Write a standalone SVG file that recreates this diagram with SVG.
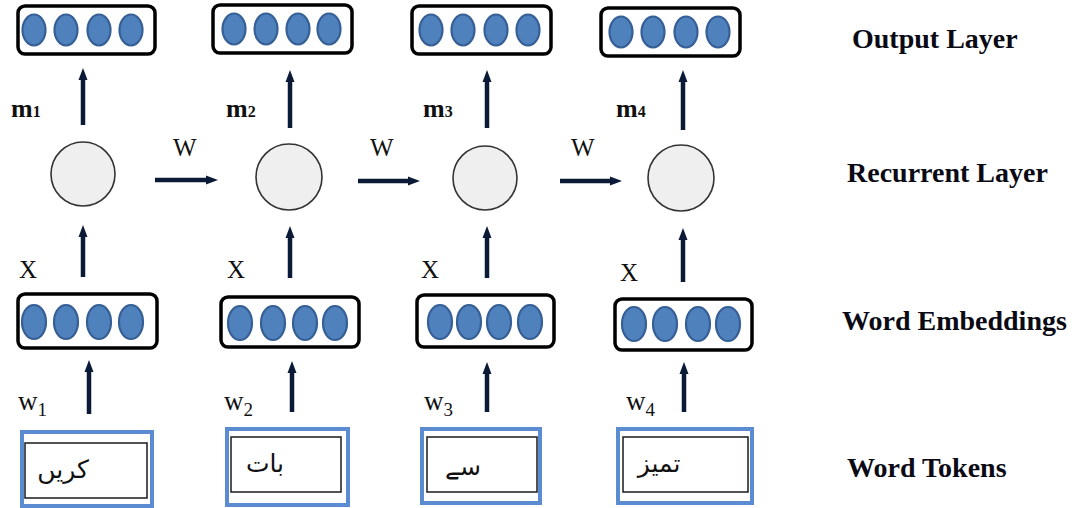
<svg xmlns="http://www.w3.org/2000/svg" width="1076" height="508" viewBox="0 0 1076 508">
  <style>
    .vec { fill: #ffffff; stroke: #000000; stroke-width: 3.5; }
    .dot { fill: #4f81bd; stroke: #365f96; stroke-width: 2.2; }
    .cell { fill: #efefef; stroke: #333333; stroke-width: 1.6; }
    .tok-outer { fill: #ffffff; stroke: #5b8bd0; stroke-width: 4; }
    .tok-inner { fill: #ffffff; stroke: #1a1a1a; stroke-width: 1.5; }
    .arrow { stroke: #0b1a36; stroke-width: 4.5; fill: none; marker-end: url(#head); }
    .lbl { font-family: "Liberation Serif", "Times New Roman", serif; fill: #111111; }
    .bold { font-weight: bold; }
    .layer { font-family: "Liberation Serif", "Times New Roman", serif; font-weight: bold; font-size: 28px; fill: #0a0a14; }
    .urdu { font-family: "DejaVu Sans", "Noto Sans", sans-serif; font-size: 25px; fill: #111111; }
  </style>
  <defs>
    <marker id="head" markerUnits="userSpaceOnUse" markerWidth="12" markerHeight="12" viewBox="0 0 12 12" refX="2" refY="6" orient="auto">
      <path d="M0,1.5 L12,6 L0,10.5 z" fill="#0b1a36"/>
    </marker>
  </defs>

  <rect width="1076" height="508" fill="#ffffff"/>

  <!-- output layer vectors -->
  <g id="out1">
    <rect class="vec" x="18" y="6" width="137" height="48" rx="7"/>
    <ellipse class="dot" cx="34" cy="30" rx="11.5" ry="15.5"/>
    <ellipse class="dot" cx="66" cy="30" rx="11.5" ry="15.5"/>
    <ellipse class="dot" cx="99" cy="30" rx="11.5" ry="15.5"/>
    <ellipse class="dot" cx="131" cy="30" rx="11.5" ry="15.5"/>
  </g>
  <g id="out2">
    <rect class="vec" x="213" y="5" width="139" height="48" rx="7"/>
    <ellipse class="dot" cx="234" cy="29" rx="11.5" ry="15.5"/>
    <ellipse class="dot" cx="266" cy="29" rx="11.5" ry="15.5"/>
    <ellipse class="dot" cx="298" cy="29" rx="11.5" ry="15.5"/>
    <ellipse class="dot" cx="329" cy="29" rx="11.5" ry="15.5"/>
  </g>
  <g id="out3">
    <rect class="vec" x="412" y="6" width="139" height="48" rx="7"/>
    <ellipse class="dot" cx="431" cy="30" rx="11.5" ry="15.5"/>
    <ellipse class="dot" cx="463" cy="30" rx="11.5" ry="15.5"/>
    <ellipse class="dot" cx="496" cy="30" rx="11.5" ry="15.5"/>
    <ellipse class="dot" cx="528" cy="30" rx="11.5" ry="15.5"/>
  </g>
  <g id="out4">
    <rect class="vec" x="601" y="8" width="139" height="48" rx="7"/>
    <ellipse class="dot" cx="621" cy="32" rx="11.5" ry="15.5"/>
    <ellipse class="dot" cx="653" cy="32" rx="11.5" ry="15.5"/>
    <ellipse class="dot" cx="686" cy="32" rx="11.5" ry="15.5"/>
    <ellipse class="dot" cx="718" cy="32" rx="11.5" ry="15.5"/>
  </g>

  <!-- recurrent cells -->
  <g id="cell1"><circle class="cell" cx="83" cy="174" r="32"/></g>
  <g id="cell2"><circle class="cell" cx="289" cy="177" r="33"/></g>
  <g id="cell3"><circle class="cell" cx="485" cy="178" r="32"/></g>
  <g id="cell4"><circle class="cell" cx="681" cy="178" r="33"/></g>

  <!-- embedding vectors -->
  <g id="emb1">
    <rect class="vec" x="18" y="294" width="139" height="54" rx="7"/>
    <ellipse class="dot" cx="34" cy="322" rx="12" ry="17"/>
    <ellipse class="dot" cx="66" cy="322" rx="12" ry="17"/>
    <ellipse class="dot" cx="99" cy="322" rx="12" ry="17"/>
    <ellipse class="dot" cx="131" cy="322" rx="12" ry="17"/>
  </g>
  <g id="emb2">
    <rect class="vec" x="221" y="297" width="138" height="50" rx="7"/>
    <ellipse class="dot" cx="240" cy="323" rx="12" ry="17"/>
    <ellipse class="dot" cx="273" cy="323" rx="12" ry="17"/>
    <ellipse class="dot" cx="305" cy="323" rx="12" ry="17"/>
    <ellipse class="dot" cx="335" cy="323" rx="12" ry="17"/>
  </g>
  <g id="emb3">
    <rect class="vec" x="417" y="295" width="137" height="52" rx="7"/>
    <ellipse class="dot" cx="440" cy="322" rx="12" ry="17"/>
    <ellipse class="dot" cx="469" cy="322" rx="12" ry="17"/>
    <ellipse class="dot" cx="499" cy="322" rx="12" ry="17"/>
    <ellipse class="dot" cx="530" cy="322" rx="12" ry="17"/>
  </g>
  <g id="emb4">
    <rect class="vec" x="615" y="299" width="137" height="51" rx="7"/>
    <ellipse class="dot" cx="634" cy="324" rx="12" ry="17"/>
    <ellipse class="dot" cx="665" cy="324" rx="12" ry="17"/>
    <ellipse class="dot" cx="698" cy="324" rx="12" ry="17"/>
    <ellipse class="dot" cx="728" cy="324" rx="12" ry="17"/>
  </g>

  <!-- word tokens -->
  <g id="tok1">
    <rect class="tok-outer" x="22" y="432" width="130" height="74"/>
    <rect class="tok-inner" x="25" y="443" width="122" height="55"/>
    <text class="urdu" x="63" y="478" text-anchor="middle" direction="rtl">کریں</text>
  </g>
  <g id="tok2">
    <rect class="tok-outer" x="227" y="429" width="121" height="76"/>
    <rect class="tok-inner" x="231" y="437" width="110" height="55"/>
    <text class="urdu" x="265" y="472" text-anchor="middle" direction="rtl">بات</text>
  </g>
  <g id="tok3">
    <rect class="tok-outer" x="422" y="429" width="118" height="74"/>
    <rect class="tok-inner" x="427" y="437" width="110" height="55"/>
    <text class="urdu" x="463" y="475" text-anchor="middle" direction="rtl">سے</text>
  </g>
  <g id="tok4">
    <rect class="tok-outer" x="618" y="429" width="134" height="74"/>
    <rect class="tok-inner" x="623" y="437" width="125" height="55"/>
    <text class="urdu" x="659" y="472" text-anchor="middle" direction="rtl">تمیز</text>
  </g>

  <!-- connectors -->
  <g id="connectors">
    <!-- cell to output -->
    <line class="arrow" x1="83" y1="125" x2="83" y2="78"/>
    <line class="arrow" x1="290" y1="128" x2="290" y2="80"/>
    <line class="arrow" x1="487" y1="128" x2="487" y2="80"/>
    <line class="arrow" x1="683" y1="130" x2="683" y2="80"/>
    <!-- recurrent W -->
    <line class="arrow" x1="155" y1="180" x2="208" y2="180"/>
    <line class="arrow" x1="358" y1="181" x2="410" y2="181"/>
    <line class="arrow" x1="560" y1="181" x2="612" y2="181"/>
    <!-- embedding to cell -->
    <line class="arrow" x1="83" y1="277" x2="83" y2="235"/>
    <line class="arrow" x1="290" y1="278" x2="290" y2="236"/>
    <line class="arrow" x1="487" y1="278" x2="487" y2="236"/>
    <line class="arrow" x1="683" y1="282" x2="683" y2="238"/>
    <!-- token to embedding -->
    <line class="arrow" x1="89" y1="414" x2="89" y2="370"/>
    <line class="arrow" x1="292" y1="412" x2="292" y2="371"/>
    <line class="arrow" x1="487" y1="412" x2="487" y2="372"/>
    <line class="arrow" x1="684" y1="412" x2="684" y2="372"/>
  </g>

  <!-- edge labels -->
  <g id="labels">
    <text class="lbl bold" x="11" y="117" font-size="26">m<tspan font-size="16">1</tspan></text>
    <text class="lbl bold" x="226" y="117" font-size="26">m<tspan font-size="16">2</tspan></text>
    <text class="lbl bold" x="423" y="117" font-size="26">m<tspan font-size="16">3</tspan></text>
    <text class="lbl bold" x="616" y="117" font-size="26">m<tspan font-size="16">4</tspan></text>

    <text class="lbl" x="173" y="156" font-size="25">W</text>
    <text class="lbl" x="370" y="156" font-size="25">W</text>
    <text class="lbl" x="571" y="156" font-size="25">W</text>

    <text class="lbl" x="19" y="278" font-size="25">X</text>
    <text class="lbl" x="227" y="278" font-size="25">X</text>
    <text class="lbl" x="421" y="278" font-size="25">X</text>
    <text class="lbl" x="620" y="281" font-size="25">X</text>

    <text class="lbl" x="18" y="410" font-size="27">w<tspan font-size="19" dy="6">1</tspan></text>
    <text class="lbl" x="224" y="410" font-size="27">w<tspan font-size="19" dy="6">2</tspan></text>
    <text class="lbl" x="424" y="410" font-size="27">w<tspan font-size="19" dy="6">3</tspan></text>
    <text class="lbl" x="626" y="410" font-size="27">w<tspan font-size="19" dy="6">4</tspan></text>
  </g>

  <!-- layer names -->
  <g id="layer-names">
    <text class="layer" x="852" y="48">Output Layer</text>
    <text class="layer" x="847" y="182">Recurrent Layer</text>
    <text class="layer" x="842" y="330">Word Embeddings</text>
    <text class="layer" x="847" y="477">Word Tokens</text>
  </g>
</svg>
